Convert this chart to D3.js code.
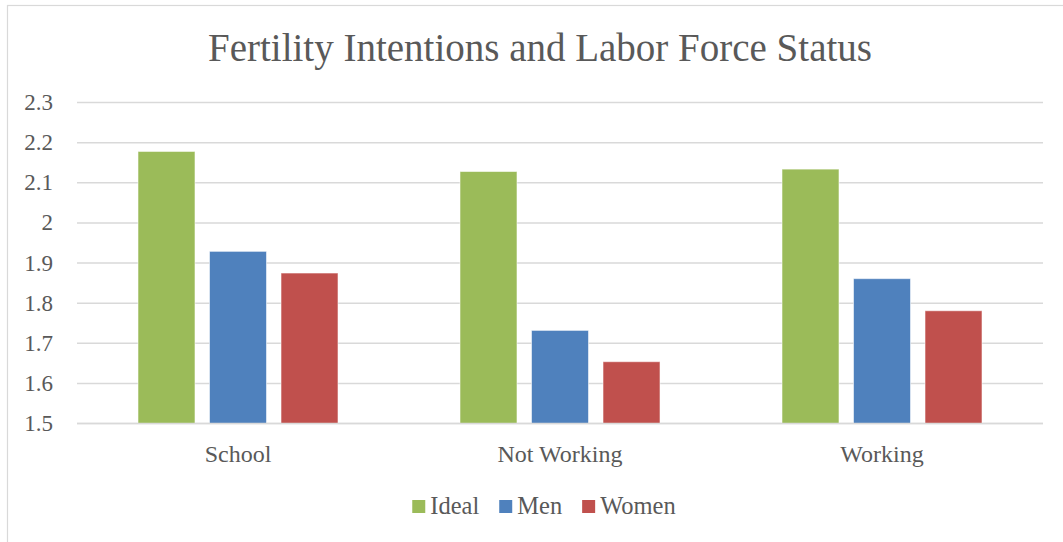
<!DOCTYPE html>
<html>
<head>
<meta charset="utf-8">
<script src="https://cdn.jsdelivr.net/npm/d3@7"></script>
<style>
  html, body { margin: 0; padding: 0; background: #fff; }
  svg { display: block; }
  text { font-family: "Liberation Serif", "Times New Roman", serif; fill: #595959; }
</style>
</head>
<body>
<svg id="chart" width="1063" height="542"></svg>
<script>
// Categories, series and values
const categories = ["School", "Not Working", "Working"];
const seriesNames = ["Ideal", "Men", "Women"];
const seriesColors = ["#9BBB59", "#4F81BD", "#C0504D"];
const idealValues = [2.178, 2.128, 2.134];
const menValues = [1.929, 1.732, 1.861];
const womenValues = [1.875, 1.654, 1.781];
const yTicks = [1.5, 1.6, 1.7, 1.8, 1.9, 2.0, 2.1, 2.2, 2.3];
const title = "Fertility Intentions and Labor Force Status";

const seriesValues = [idealValues, menValues, womenValues];

const svg = d3.select("#chart");

// Chart area frame
svg.append("rect")
  .attr("x", 7.5).attr("y", 5.5)
  .attr("width", 1070).attr("height", 560)
  .attr("fill", "#fff")
  .attr("stroke", "#D9D9D9").attr("stroke-width", 1.2);

const plot = { left: 77, right: 1043, top: 102.5, bottom: 423.5 };

const x0 = d3.scaleBand()
  .domain(categories)
  .range([plot.left, plot.right])
  .padding(0);

const x1 = d3.scaleBand()
  .domain(seriesNames)
  .range([0, x0.bandwidth()])
  .paddingInner(0.203)
  .paddingOuter(0.853);

const y = d3.scaleLinear()
  .domain([1.5, 2.3])
  .range([plot.bottom, plot.top]);

// Horizontal gridlines
svg.append("g")
  .selectAll("line")
  .data(yTicks)
  .join("line")
  .attr("x1", plot.left).attr("x2", plot.right)
  .attr("y1", d => y(d)).attr("y2", d => y(d))
  .attr("stroke", "#D9D9D9")
  .attr("stroke-width", 1.5);

// Y axis labels
const fmt = d3.format("~g");
svg.append("g")
  .selectAll("text")
  .data(yTicks)
  .join("text")
  .attr("x", 53)
  .attr("y", d => y(d) + 7.5)
  .attr("text-anchor", "end")
  .attr("font-size", 23)
  .text(d => fmt(d));

// Bars
const rows = categories.map((c, i) => ({
  category: c,
  values: seriesNames.map((s, j) => ({ series: s, value: seriesValues[j][i], color: seriesColors[j] }))
}));

const groups = svg.append("g")
  .selectAll("g")
  .data(rows)
  .join("g")
  .attr("transform", d => `translate(${x0(d.category)},0)`);

groups.selectAll("rect")
  .data(d => d.values)
  .join("rect")
  .attr("x", d => x1(d.series))
  .attr("width", x1.bandwidth())
  .attr("y", d => y(d.value))
  .attr("height", d => y(1.5) - y(d.value))
  .attr("fill", d => d.color)
  .attr("stroke", "rgba(255,255,255,0.55)")
  .attr("stroke-width", 1);

// Category axis baseline
svg.append("line")
  .attr("x1", plot.left).attr("x2", plot.right)
  .attr("y1", y(1.5)).attr("y2", y(1.5))
  .attr("stroke", "#D9D9D9").attr("stroke-width", 1.5);

// Category labels
svg.append("g")
  .selectAll("text")
  .data(categories)
  .join("text")
  .attr("x", d => x0(d) + x0.bandwidth() / 2)
  .attr("y", 462)
  .attr("text-anchor", "middle")
  .attr("font-size", 24)
  .text(d => d);

// Title
svg.append("text")
  .attr("x", 540)
  .attr("y", 61)
  .attr("text-anchor", "middle")
  .attr("font-size", 39)
  .text(title);

// Legend
const legend = svg.append("g");
const items = legend.selectAll("g")
  .data(seriesNames.map((s, i) => ({ name: s, color: seriesColors[i] })))
  .join("g");
items.append("rect")
  .attr("width", 13).attr("height", 13)
  .attr("y", 500)
  .attr("fill", d => d.color);
items.append("text")
  .attr("x", 18)
  .attr("y", 514)
  .attr("font-size", 24.5)
  .text(d => d.name);

// Lay out legend entries side by side and center them
let cx = 0;
items.each(function() {
  const g = d3.select(this);
  g.attr("transform", `translate(${cx},0)`);
  const w = g.select("text").node().getComputedTextLength();
  cx += 18 + w + 20;
});
const totalW = cx - 20;
legend.attr("transform", `translate(${544 - totalW / 2},0)`);
</script>
</body>
</html>
